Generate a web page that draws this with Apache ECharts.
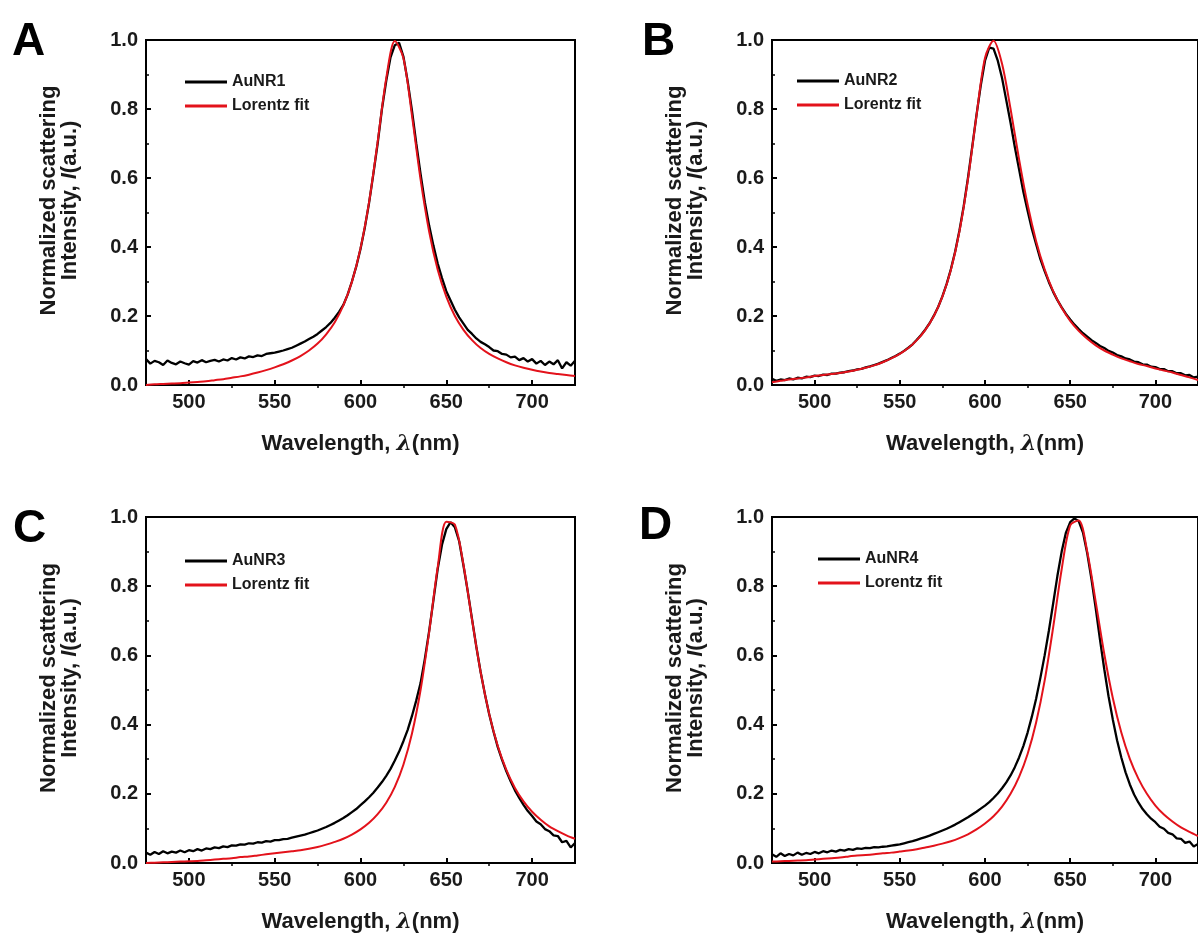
<!DOCTYPE html>
<html><head><meta charset="utf-8">
<script src="https://cdn.jsdelivr.net/npm/echarts@6/dist/echarts.min.js"></script>
<style>html,body{margin:0;padding:0;background:#fff}#c{width:1198px;height:936px}</style>
</head><body><div id="c"></div><script>
// ---------------- data ----------------
const wavelengths5 = [475,480,485,490,495,500,505,510,515,520,525,530,535,540,545,550,555,560,565,570,575,580,585,590,595,600,605,610,615,620,625,630,635,640,645,650,655,660,665,670,675,680,685,690,695,700,705,710,715,720,725];
const wavelengths2p5 = [475,477.5,480,482.5,485,487.5,490,492.5,495,497.5,500,502.5,505,507.5,510,512.5,515,517.5,520,522.5,525,527.5,530,532.5,535,537.5,540,542.5,545,547.5,550,552.5,555,557.5,560,562.5,565,567.5,570,572.5,575,577.5,580,582.5,585,587.5,590,592.5,595,597.5,600,602.5,605,607.5,610,612.5,615,617.5,620,622.5,625,627.5,630,632.5,635,637.5,640,642.5,645,647.5,650,652.5,655,657.5,660,662.5,665,667.5,670,672.5,675,677.5,680,682.5,685,687.5,690,692.5,695,697.5,700,702.5,705,707.5,710,712.5,715,717.5,720,722.5,725];

const aunr1 = [0.075,0.062,0.070,0.066,0.058,0.071,0.064,0.060,0.068,0.063,0.059,0.069,0.065,0.072,0.066,0.070,0.073,0.068,0.074,0.071,0.078,0.074,0.080,0.077,0.083,0.081,0.086,0.084,0.090,0.092,0.094,0.097,0.100,0.104,0.108,0.114,0.120,0.126,0.133,0.140,0.148,0.158,0.168,0.180,0.195,0.212,0.232,0.262,0.300,0.343,0.394,0.456,0.528,0.612,0.700,0.800,0.882,0.950,0.985,0.992,0.952,0.880,0.795,0.700,0.612,0.530,0.462,0.404,0.352,0.310,0.272,0.245,0.218,0.196,0.178,0.160,0.148,0.135,0.125,0.118,0.110,0.100,0.098,0.090,0.088,0.080,0.082,0.072,0.078,0.068,0.075,0.062,0.070,0.058,0.068,0.060,0.072,0.048,0.066,0.056,0.070];
const fit1 = [0.000,0.002,0.003,0.004,0.005,0.007,0.009,0.011,0.014,0.017,0.021,0.025,0.030,0.036,0.043,0.051,0.060,0.071,0.084,0.100,0.120,0.147,0.182,0.231,0.299,0.396,0.530,0.705,0.889,0.997,0.948,0.781,0.596,0.445,0.334,0.256,0.200,0.160,0.130,0.107,0.090,0.077,0.066,0.057,0.050,0.044,0.039,0.035,0.032,0.029,0.026];

const aunr2 = [0.018,0.012,0.016,0.014,0.019,0.016,0.021,0.019,0.024,0.023,0.027,0.026,0.030,0.029,0.033,0.033,0.036,0.037,0.040,0.042,0.045,0.047,0.051,0.054,0.058,0.062,0.067,0.072,0.078,0.084,0.091,0.099,0.108,0.118,0.131,0.145,0.161,0.179,0.201,0.226,0.257,0.293,0.336,0.387,0.448,0.518,0.600,0.690,0.782,0.868,0.940,0.978,0.975,0.940,0.890,0.825,0.760,0.690,0.625,0.560,0.505,0.452,0.408,0.365,0.330,0.298,0.270,0.246,0.225,0.206,0.190,0.175,0.162,0.150,0.140,0.130,0.122,0.113,0.107,0.099,0.094,0.087,0.083,0.077,0.074,0.068,0.066,0.060,0.059,0.053,0.052,0.046,0.046,0.040,0.040,0.034,0.034,0.028,0.029,0.022,0.024];
const fit2 = [0.008,0.012,0.016,0.019,0.022,0.026,0.029,0.032,0.035,0.039,0.044,0.050,0.057,0.066,0.077,0.090,0.107,0.130,0.160,0.200,0.256,0.334,0.445,0.596,0.781,0.948,0.998,0.931,0.800,0.654,0.523,0.417,0.335,0.272,0.224,0.186,0.157,0.134,0.115,0.100,0.088,0.077,0.069,0.061,0.055,0.048,0.042,0.036,0.029,0.022,0.014];

const aunr3 = [0.030,0.024,0.032,0.026,0.034,0.028,0.033,0.030,0.036,0.031,0.037,0.034,0.040,0.036,0.042,0.040,0.045,0.043,0.048,0.046,0.051,0.050,0.054,0.053,0.057,0.056,0.060,0.059,0.063,0.062,0.066,0.066,0.069,0.070,0.073,0.076,0.079,0.082,0.086,0.090,0.094,0.099,0.104,0.110,0.116,0.123,0.130,0.138,0.147,0.156,0.167,0.178,0.190,0.203,0.218,0.234,0.252,0.272,0.296,0.322,0.352,0.385,0.425,0.470,0.520,0.590,0.670,0.760,0.850,0.920,0.965,0.985,0.970,0.930,0.860,0.785,0.705,0.625,0.552,0.488,0.430,0.380,0.335,0.298,0.265,0.236,0.210,0.188,0.168,0.150,0.136,0.120,0.112,0.098,0.092,0.080,0.078,0.060,0.064,0.045,0.058];
const fit3 = [0.000,0.001,0.002,0.003,0.004,0.005,0.006,0.008,0.010,0.012,0.014,0.017,0.019,0.022,0.025,0.028,0.031,0.034,0.037,0.041,0.046,0.053,0.061,0.070,0.082,0.097,0.116,0.141,0.174,0.220,0.284,0.374,0.500,0.667,0.855,0.986,0.978,0.862,0.703,0.552,0.431,0.338,0.269,0.217,0.178,0.148,0.125,0.106,0.092,0.080,0.070];

const aunr4 = [0.025,0.018,0.028,0.020,0.026,0.022,0.030,0.024,0.029,0.026,0.032,0.028,0.034,0.031,0.036,0.033,0.038,0.036,0.040,0.038,0.042,0.041,0.044,0.043,0.046,0.045,0.047,0.048,0.050,0.052,0.054,0.057,0.060,0.063,0.067,0.071,0.075,0.079,0.084,0.089,0.094,0.099,0.105,0.111,0.118,0.125,0.132,0.140,0.148,0.157,0.166,0.176,0.188,0.201,0.216,0.233,0.253,0.277,0.305,0.338,0.377,0.423,0.475,0.535,0.600,0.672,0.750,0.830,0.900,0.955,0.985,0.996,0.988,0.955,0.895,0.820,0.735,0.645,0.560,0.482,0.415,0.355,0.305,0.262,0.227,0.198,0.175,0.156,0.141,0.128,0.118,0.105,0.099,0.087,0.083,0.071,0.070,0.058,0.062,0.048,0.055];
const fit4 = [0.004,0.005,0.006,0.007,0.008,0.010,0.012,0.014,0.016,0.019,0.022,0.023,0.025,0.028,0.030,0.033,0.036,0.040,0.045,0.050,0.056,0.063,0.072,0.083,0.097,0.114,0.135,0.163,0.200,0.249,0.315,0.406,0.527,0.681,0.849,0.976,0.990,0.900,0.754,0.604,0.477,0.377,0.301,0.244,0.200,0.166,0.140,0.120,0.103,0.090,0.078];

const sampleNames = ['AuNR1','AuNR2','AuNR3','AuNR4'];
const fitName = 'Lorentz fit';
const panelLetters = ['A','B','C','D'];
const xMajorTicks = [500,550,600,650,700];
const xMinorTicks = [525,575,625,675];
const spectra = [aunr1, aunr2, aunr3, aunr4];
const fits = [fit1, fit2, fit3, fit4];

// ---------------- layout ----------------
const FONT = 'Liberation Sans, Arial, Helvetica, sans-serif';
const INK = '#1a1a1a';
const RED = '#e3121b';
const layout = [
  {left:146, top:40,  width:429, height:345, legL:185, legT:74,  letX:12,  letY:45},
  {left:772, top:40,  width:432, height:345, legL:797, legT:73,  letX:642, letY:45},
  {left:146, top:517, width:429, height:346, legL:185, legT:553, letX:13,  letY:532},
  {left:772, top:517, width:432, height:346, legL:818, legT:551, letX:639, letY:529}
];
const zip = (xs, ys) => xs.map((x, i) => [x, ys[i]]);

const grid = [], xAxis = [], yAxis = [], series = [], legend = [], graphic = [];
layout.forEach((L, i) => {
  grid.push({left:L.left, top:L.top, width:L.width, height:L.height,
    show:true, borderColor:'#000', borderWidth:2, backgroundColor:'transparent'});
  xAxis.push({
    type:'value', gridIndex:i, min:475, max:725,
    name:'{b|Wavelength, }{i|λ}{b|(nm)}', nameLocation:'middle', nameGap:48,
    nameTextStyle:{rich:{
      b:{fontFamily:FONT, fontWeight:'bold', fontSize:22, color:INK},
      i:{fontFamily:'DejaVu Serif, serif', fontStyle:'italic', fontWeight:'bold', fontSize:22, color:INK}}},
    axisLine:{show:true, onZero:false, lineStyle:{color:'#000', width:2}},
    axisTick:{show:true, inside:true, length:5, customValues:xMajorTicks, lineStyle:{color:'#000', width:2}},
    axisLabel:{customValues:xMajorTicks, margin:7, fontFamily:FONT, fontWeight:'bold', fontSize:20, color:INK},
    splitLine:{show:false}
  });
  xAxis.push({
    type:'value', gridIndex:i, min:475, max:725,
    axisLine:{show:false},
    axisTick:{show:true, inside:true, length:3, customValues:xMinorTicks, lineStyle:{color:'#000', width:1.5}},
    axisLabel:{show:false}, splitLine:{show:false}
  });
  yAxis.push({
    type:'value', gridIndex:i, min:0, max:1, interval:0.2,
    name:'{b|Normalized scattering}\n{b|Intensity, }{i|I}{b|(a.u.)}',
    nameLocation:'middle', nameGap:66, nameRotate:90,
    nameTextStyle:{padding:[0,0,0,24], lineHeight:21, rich:{
      b:{fontFamily:FONT, fontWeight:'bold', fontSize:22, color:INK, lineHeight:21},
      i:{fontFamily:FONT, fontStyle:'italic', fontWeight:'bold', fontSize:22, color:INK, lineHeight:21}}},
    axisLine:{show:true, onZero:false, lineStyle:{color:'#000', width:2}},
    axisTick:{show:true, inside:true, length:5, lineStyle:{color:'#000', width:2}},
    minorTick:{show:true, splitNumber:2, length:3, lineStyle:{color:'#000', width:1.5}},
    axisLabel:{margin:8, fontFamily:FONT, fontWeight:'bold', fontSize:20, color:INK,
      formatter:v => v.toFixed(1)},
    splitLine:{show:false}, minorSplitLine:{show:false}
  });
  series.push({
    type:'line', name:sampleNames[i], xAxisIndex:2*i, yAxisIndex:i,
    data:zip(wavelengths2p5, spectra[i]), symbol:'none', silent:true,
    lineStyle:{color:'#000', width:2.3}, itemStyle:{color:'#000'}, z:2
  });
  series.push({
    type:'line', name:fitName, xAxisIndex:2*i, yAxisIndex:i,
    data:zip(wavelengths5, fits[i]), symbol:'none', smooth:0.3, silent:true,
    lineStyle:{color:RED, width:2}, itemStyle:{color:RED}, z:3
  });
  legend.push({
    left:L.legL, top:L.legT, orient:'vertical', icon:'rect', itemWidth:42, itemHeight:3,
    itemGap:8, padding:0, selectedMode:false, data:[sampleNames[i], fitName],
    textStyle:{fontFamily:FONT, fontWeight:'bold', fontSize:16, color:INK}
  });
  graphic.push({
    type:'text', left:L.letX, top:L.letY - 26,
    style:{text:panelLetters[i], font:'bold 46px ' + FONT, fill:'#000'}
  });
});

const chart = echarts.init(document.getElementById('c'), null, {renderer:'canvas'});
chart.setOption({animation:false, backgroundColor:'#fff', grid, xAxis, yAxis, series, legend, graphic});
</script></body></html>
